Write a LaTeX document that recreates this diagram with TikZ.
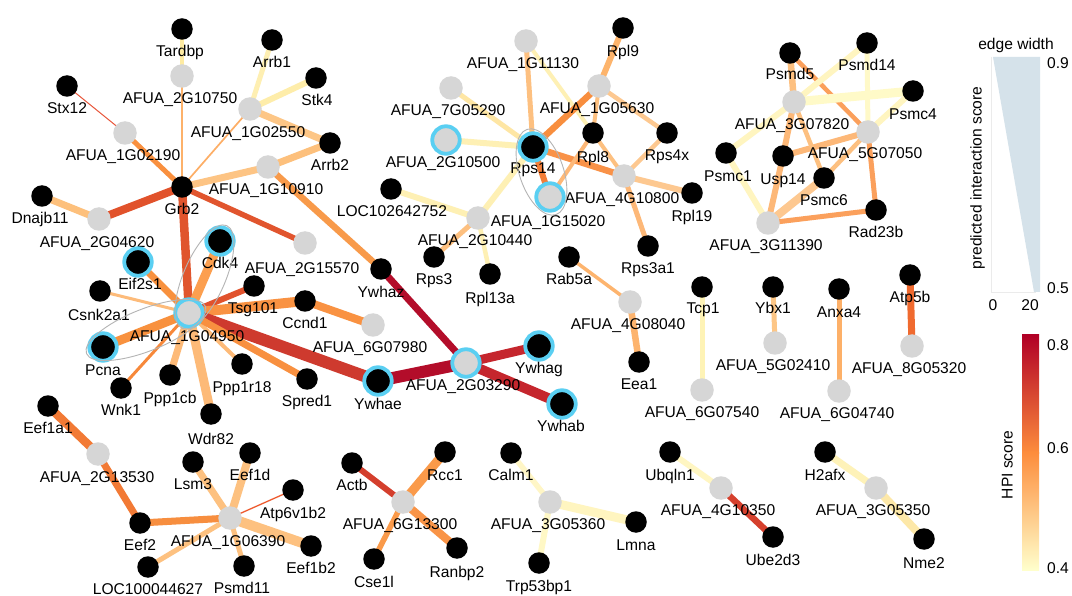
\documentclass[tikz,border=0pt]{standalone}
\usepackage{fontspec}
\setmainfont{Liberation Sans}
\pgfdeclarelayer{back}
\pgfdeclarelayer{bg}
\pgfsetlayers{back,bg,main}
\definecolor{ngray}{HTML}{D6D6D6}
\definecolor{ringblue}{HTML}{5ACFF2}
\definecolor{tri}{HTML}{D5E2EA}
\definecolor{ellgray}{HTML}{B4B4B4}
\newcommand\mynd[5]{\node[#1] (#2) at (#3) {};\node[lbl] (#2l) at (#5) {#4};}
\newcommand\ed[4]{\definecolor{tmpc}{HTML}{#4}\draw[line width=#3pt,draw=tmpc] (#1.center) -- (#2.center);}
\begin{document}
\begin{tikzpicture}[x=1pt,y=-1pt,
  bn/.style={circle,fill=black,minimum size=21.5pt,inner sep=0pt},
  gn/.style={circle,fill=ngray,minimum size=23.5pt,inner sep=0pt},
  ring/.style={draw=ringblue,line width=3.8pt,minimum size=27.5pt},
  lbl/.style={font=\fontsize{15.6}{18}\selectfont,inner sep=0pt,text height=11pt,text depth=0pt},
  ell/.style={draw=ellgray,line width=0.9pt}]
\begin{pgfonlayer}{back}
\fill[white] (0,0) rectangle (1072,596);
\end{pgfonlayer}
\useasboundingbox (0,0) rectangle (1072,596);

% ---------- Grb2 / AFUA_1G04950 cluster
\mynd{bn}{Tardbp}{182,29}{Tardbp}{180,51}
\mynd{gn}{g2G10750}{182,76}{AFUA\_2G10750}{180,98}
\mynd{bn}{Arrb1}{272,40}{Arrb1}{272,62}
\mynd{bn}{Stk4}{316,78}{Stk4}{317,100}
\mynd{gn}{g1G02550}{250,109}{AFUA\_1G02550}{248,132}
\mynd{bn}{Stx12}{67,86}{Stx12}{67,108}
\mynd{gn}{g1G02190}{125,133}{AFUA\_1G02190}{123,155}
\mynd{bn}{Arrb2}{330,143}{Arrb2}{330,165}
\mynd{gn}{g1G10910}{268,167}{AFUA\_1G10910}{266,189}
\mynd{bn}{Grb2}{182,187}{Grb2}{182,209}
\mynd{bn}{Dnajb11}{42,196}{Dnajb11}{40,218}
\mynd{gn}{g2G04620}{99,219}{AFUA\_2G04620}{97,242}
\mynd{gn}{g2G15570}{305,243}{AFUA\_2G15570}{302,268}
\mynd{bn,ring}{Cdk4}{220,241}{Cdk4}{220,263}
\mynd{bn,ring}{Eif2s1}{138,262}{Eif2s1}{140,284}
\mynd{bn}{Csnk2a1}{100,291}{Csnk2a1}{99,315}
\mynd{gn,ring}{g1G04950}{189,313}{AFUA\_1G04950}{187,336}
\mynd{bn}{Tsg101}{254,286}{Tsg101}{253,308}
\mynd{bn}{Ccnd1}{305,301}{Ccnd1}{305,323}
\mynd{gn}{g6G07980}{373,325}{AFUA\_6G07980}{370,347}
\mynd{bn,ring}{Pcna}{103,347}{Pcna}{103,370}
\mynd{bn}{Wnk1}{121,388}{Wnk1}{121,410}
\mynd{bn}{Ppp1cb}{170,375}{Ppp1cb}{170,398}
\mynd{bn}{Ppp1r18}{242,364}{Ppp1r18}{242,387}
\mynd{bn}{Spred1}{307,379}{Spred1}{307,401}
\mynd{bn}{Wdr82}{211,414}{Wdr82}{211,439}
\mynd{bn}{Ywhaz}{381,269}{Ywhaz}{381,292}
\mynd{gn,ring}{g2G03290}{466,363}{AFUA\_2G03290}{463,385}
\mynd{bn,ring}{Ywhag}{539,346}{Ywhag}{539,368}
\mynd{bn,ring}{Ywhae}{378,381}{Ywhae}{378,404}
\mynd{bn,ring}{Ywhab}{562,404}{Ywhab}{561,426}

% ---------- lower left
\mynd{bn}{Eef1a1}{48,406}{Eef1a1}{48,428}
\mynd{gn}{g2G13530}{98,454}{AFUA\_2G13530}{97,477}
\mynd{bn}{Lsm3}{193,462}{Lsm3}{193,484}
\mynd{bn}{Eef1d}{250,453}{Eef1d}{250,475}
\mynd{bn}{Atp6v1b2}{293,490}{Atp6v1b2}{293,513}
\mynd{gn}{g1G06390}{230,518}{AFUA\_1G06390}{228,541}
\mynd{bn}{Eef2}{140,523}{Eef2}{140,545}
\mynd{bn}{Eef1b2}{311,546}{Eef1b2}{311,568}
\mynd{bn}{Psmd11}{244,566}{Psmd11}{242,588}
\mynd{bn}{LOCa}{148,567}{LOC100044627}{148,588.5}

% ---------- bottom middle
\mynd{bn}{Actb}{352,463}{Actb}{352,485}
\mynd{bn}{Rcc1}{445,452}{Rcc1}{445,475}
\mynd{gn}{g6G13300}{403,502}{AFUA\_6G13300}{400,524}
\mynd{bn}{Cse1l}{374,559}{Cse1l}{374,582}
\mynd{bn}{Ranbp2}{457,548}{Ranbp2}{457,572}
\mynd{bn}{Calm1}{511,453}{Calm1}{511,475}
\mynd{gn}{g3G05360}{550,502}{AFUA\_3G05360}{548,524}
\mynd{bn}{Lmna}{636,522}{Lmna}{636,545}
\mynd{bn}{Trp53bp1}{539,563}{Trp53bp1}{539,586}
\mynd{bn}{Ubqln1}{670,452}{Ubqln1}{670,475}
\mynd{gn}{g4G10350}{721,488}{AFUA\_4G10350}{718,510}
\mynd{bn}{Ube2d3}{773,537}{Ube2d3}{773,560}
\mynd{bn}{H2afx}{825,452}{H2afx}{825,475}
\mynd{gn}{g3G05350}{876,488}{AFUA\_3G05350}{873,510}
\mynd{bn}{Nme2}{924,539}{Nme2}{924,563}

% ---------- middle pairs
\mynd{bn}{Rab5a}{569,257}{Rab5a}{569,279}
\mynd{gn}{g4G08040}{630,302}{AFUA\_4G08040}{628,324}
\mynd{bn}{Eea1}{639,362}{Eea1}{639,384}
\mynd{bn}{Tcp1}{702,287}{Tcp1}{703,308}
\mynd{gn}{g6G07540}{702,390}{AFUA\_6G07540}{702,412}
\mynd{bn}{Ybx1}{773,287}{Ybx1}{773,308}
\mynd{gn}{g5G02410}{775,343}{AFUA\_5G02410}{773,365}
\mynd{bn}{Anxa4}{839,289}{Anxa4}{839,312}
\mynd{gn}{g6G04740}{839,391}{AFUA\_6G04740}{837,413}
\mynd{bn}{Atp5b}{910,275}{Atp5b}{910,297}
\mynd{gn}{g8G05320}{912,346}{AFUA\_8G05320}{909,368}

% ---------- Rps14 cluster
\mynd{gn}{g1G11130}{526,41}{AFUA\_1G11130}{523,63}
\mynd{bn}{Rpl9}{623,28}{Rpl9}{623,51}
\mynd{gn}{g7G05290}{451,88}{AFUA\_7G05290}{448,110}
\mynd{gn}{g1G05630}{599,86}{AFUA\_1G05630}{597,108}
\mynd{bn}{Rpl8}{593,133}{Rpl8}{593,157}
\mynd{bn}{Rps4x}{667,133}{Rps4x}{667,155}
\mynd{gn,ring}{g2G10500}{446,140}{AFUA\_2G10500}{443,162}
\mynd{bn,ring}{Rps14}{533,147}{Rps14}{533,168}
\mynd{gn}{g4G10800}{624,176}{AFUA\_4G10800}{622,198}
\mynd{bn}{Rpl19}{692,193}{Rpl19}{692,216}
\mynd{gn,ring}{g1G15020}{550,197}{AFUA\_1G15020}{548,221}
\mynd{bn}{LOCb}{391,189}{LOC102642752}{392,211}
\mynd{gn}{g2G10440}{478,218}{AFUA\_2G10440}{475,240}
\mynd{bn}{Rps3}{434,257}{Rps3}{434,279}
\mynd{bn}{Rpl13a}{490,274}{Rpl13a}{490,298}
\mynd{bn}{Rps3a1}{648,246}{Rps3a1}{648,268}

% ---------- proteasome cluster
\mynd{bn}{Psmd5}{790,53}{Psmd5}{790,74}
\mynd{bn}{Psmd14}{867,43}{Psmd14}{867,65}
\mynd{bn}{Psmc4}{913,91}{Psmc4}{913,114}
\mynd{gn}{g3G07820}{794,102}{AFUA\_3G07820}{792,124}
\mynd{gn}{g5G07050}{868,132}{AFUA\_5G07050}{865,153}
\mynd{bn}{Psmc1}{726,153}{Psmc1}{728,176}
\mynd{bn}{Usp14}{783,156}{Usp14}{783,179}
\mynd{bn}{Psmc6}{824,178}{Psmc6}{824,200}
\mynd{bn}{Rad23b}{876,210}{Rad23b}{876,232}
\mynd{gn}{g3G11390}{768,223}{AFUA\_3G11390}{766,245}

% ---------- edges
\begin{pgfonlayer}{bg}
\ed{Tardbp}{g2G10750}{4.7}{FEEBA2}
\ed{g2G10750}{Grb2}{1.7}{FDB16A}
\ed{Arrb1}{g1G02550}{5}{FEEFB2}
\ed{Stk4}{g1G02550}{6}{FEEDAA}
\ed{g1G02550}{Arrb2}{7}{FDC686}
\ed{g1G02550}{Grb2}{1.7}{FDAE66}
\ed{Stx12}{g1G02190}{1}{E8553A}
\ed{g1G02190}{Grb2}{5}{F9903F}
\ed{Arrb2}{g1G10910}{7}{FDC07C}
\ed{g1G10910}{Grb2}{7}{FDC484}
\ed{g1G10910}{Ywhaz}{6.5}{F89A4A}
\ed{Dnajb11}{g2G04620}{7}{FDC07C}
\ed{g2G04620}{Grb2}{8}{E1522B}
\ed{Grb2}{g2G15570}{5.5}{E1552E}
\ed{Grb2}{g1G04950}{8.5}{E0552D}
\ed{g1G04950}{Cdk4}{9}{FC9F4F}
\ed{g1G04950}{Eif2s1}{7}{F8913E}
\ed{g1G04950}{Csnk2a1}{3}{FDBB7A}
\ed{g1G04950}{Tsg101}{6}{E1522D}
\ed{g1G04950}{Ccnd1}{10}{F99242}
\ed{Ccnd1}{g6G07980}{8}{F99242}
\ed{g1G04950}{Ywhae}{12}{CE3A2E}
\ed{g1G04950}{Pcna}{9}{F8913E}
\ed{g1G04950}{Wnk1}{3}{F7883A}
\ed{g1G04950}{Ppp1cb}{7}{FDBA78}
\ed{g1G04950}{Ppp1r18}{4}{FDBA78}
\ed{g1G04950}{Spred1}{7}{F89040}
\ed{g1G04950}{Wdr82}{9}{FDBA78}
\ed{Ywhaz}{g2G03290}{7}{B30D2A}
\ed{Ywhae}{g2G03290}{12}{B30D2A}
\ed{g2G03290}{Ywhag}{9}{C5262D}
\ed{g2G03290}{Ywhab}{10}{C5262D}
\ed{Eef1a1}{g2G13530}{8.5}{F27A35}
\ed{g2G13530}{Eef2}{7}{F27A35}
\ed{Eef2}{g1G06390}{7}{F78E3F}
\ed{g1G06390}{Lsm3}{7}{FDC180}
\ed{g1G06390}{Eef1d}{8}{FDC180}
\ed{g1G06390}{Atp6v1b2}{1.3}{EE5A2E}
\ed{g1G06390}{Eef1b2}{10}{FDC180}
\ed{g1G06390}{Psmd11}{5}{FDC180}
\ed{g1G06390}{LOCa}{5}{FDC180}
\ed{Actb}{g6G13300}{6}{D43F2D}
\ed{Rcc1}{g6G13300}{9}{FA9A4A}
\ed{g6G13300}{Cse1l}{5.5}{FA9A4A}
\ed{g6G13300}{Ranbp2}{8}{F99447}
\ed{Calm1}{g3G05360}{5.5}{FFF6C6}
\ed{g3G05360}{Lmna}{9}{FFF5C0}
\ed{g3G05360}{Trp53bp1}{6}{FFF8C6}
\ed{Ubqln1}{g4G10350}{6}{FFF6C2}
\ed{g4G10350}{Ube2d3}{6.5}{D5402D}
\ed{H2afx}{g3G05350}{7}{FEF2B8}
\ed{g3G05350}{Nme2}{8}{FDE8A8}
\ed{Rab5a}{g4G08040}{3.5}{FDB46E}
\ed{g4G08040}{Eea1}{6.5}{FDB46E}
\ed{Tcp1}{g6G07540}{5}{FEF3B6}
\ed{Ybx1}{g5G02410}{5}{FDC686}
\ed{Anxa4}{g6G04740}{5}{FDB068}
\ed{Atp5b}{g8G05320}{7}{F06A2F}
\ed{g1G11130}{Rps14}{5}{FDC080}
\ed{g1G11130}{Rpl8}{4}{FEF0B4}
\ed{Rpl9}{g1G05630}{6}{FDB46C}
\ed{g1G05630}{Rps14}{6.5}{F88E3E}
\ed{g1G05630}{Rpl8}{4}{FDC080}
\ed{g1G05630}{Rps4x}{4.5}{FDC890}
\ed{g7G05290}{Rps14}{5}{FEE6A4}
\ed{g2G10500}{Rps14}{6}{FEF0B4}
\ed{Rps14}{g4G10800}{6.5}{F99248}
\ed{Rps14}{g1G15020}{6}{F47E38}
\ed{Rpl8}{g1G15020}{4}{FDB878}
\ed{Rpl8}{g4G10800}{4}{FDC080}
\ed{Rps4x}{g4G10800}{4.5}{FDC890}
\ed{g4G10800}{Rpl19}{6}{FDC890}
\ed{g4G10800}{Rps3a1}{5}{FDB878}
\ed{Rps14}{g2G10440}{6}{FEF0B4}
\ed{LOCb}{g2G10440}{6}{FEF0B4}
\ed{g2G10440}{Rps3}{5}{FDC080}
\ed{g2G10440}{Rpl13a}{4.5}{FEF0B4}
\ed{Psmd5}{g3G07820}{6.5}{FDC080}
\ed{Psmd5}{g5G07050}{4.5}{FBA05C}
\ed{Psmd14}{g3G07820}{6}{FFF5C0}
\ed{Psmd14}{g5G07050}{5}{FFF9C8}
\ed{Psmc4}{g3G07820}{9}{FFFAC8}
\ed{Psmc4}{g5G07050}{6}{FFF5C0}
\ed{Psmc1}{g3G07820}{6}{FFF5C0}
\ed{Psmc1}{g3G11390}{6}{FFF5C0}
\ed{Usp14}{g3G07820}{6}{FDB878}
\ed{Usp14}{g3G11390}{6}{FDB878}
\ed{Usp14}{g5G07050}{6}{FDB878}
\ed{Psmc6}{g3G07820}{4.5}{FDC080}
\ed{Psmc6}{g5G07050}{4.5}{FDC080}
\ed{Psmc6}{g3G11390}{8}{FDC890}
\ed{Rad23b}{g5G07050}{5}{FBA05C}
\ed{Rad23b}{g3G11390}{5}{FBA05C}
\end{pgfonlayer}

% ---------- ellipses
\draw[ell,rotate around={66.7:(204.5,277)}] (204.5,277) ellipse [x radius=56pt,y radius=21pt];
\draw[ell,rotate around={21.6:(146,330)}] (146,330) ellipse [x radius=64pt,y radius=21pt];
\draw[ell,rotate around={-71.2:(541.5,172)}] (541.5,172) ellipse [x radius=45pt,y radius=22pt];

% ---------- legend
\node[lbl] (ewt) at (1016,44) {edge width};
\fill[tri] (993,57) -- (1040,57) -- (1040,292) -- (1034,292) -- cycle;
\draw[draw=black!8,line width=0.8pt] (991,57) -- (991,292) -- (1036,292);
\node[lbl] (l09) at (1058,63) {0.9};
\node[lbl] (l05) at (1058,288) {0.5};
\node[lbl] (l0) at (993,305) {0};
\node[lbl] (l20) at (1030,305) {20};
\node[lbl,rotate=90] (pis) at (976,178) {predicted interaction score};
\shade[top color={rgb,255:red,177;green,0;blue,38},middle color={rgb,255:red,224;green,64;blue,42},bottom color={rgb,255:red,253;green,141;blue,60}] (1022,335) rectangle (1039,453);
\shade[top color={rgb,255:red,253;green,141;blue,60},middle color={rgb,255:red,254;green,192;blue,122},bottom color={rgb,255:red,255;green,255;blue,204}] (1022,452.5) rectangle (1039,570);
\node[lbl] (l08) at (1058,345) {0.8};
\node[lbl] (l06) at (1058,448) {0.6};
\node[lbl] (l04) at (1058,568) {0.4};
\node[lbl,rotate=90] (hpi) at (1007,465) {HPI score};
\end{tikzpicture}
\end{document}
